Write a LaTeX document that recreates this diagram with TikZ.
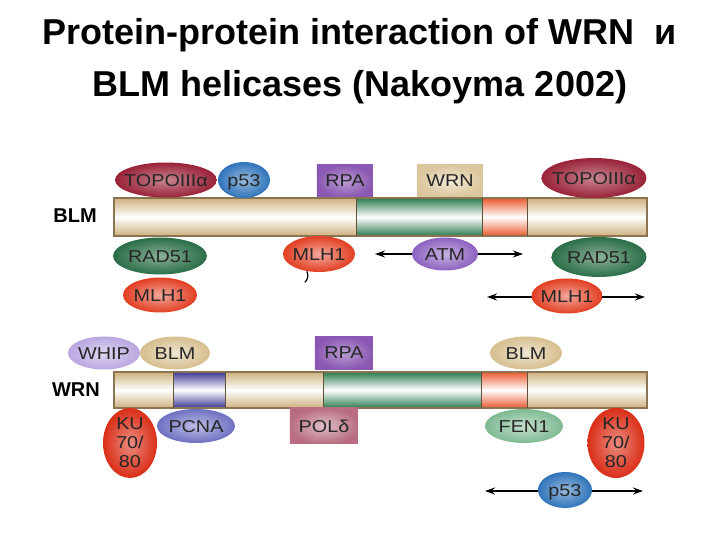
\documentclass[tikz,border=0pt]{standalone}
\usepackage{fontspec}
\setmainfont{Liberation Sans}
\usetikzlibrary{shapes.geometric,arrows.meta}
\definecolor{topo}{HTML}{9A2238}
\definecolor{pfs}{HTML}{2F74BA}
\definecolor{rpa}{HTML}{8A58B2}
\definecolor{wrnb}{HTML}{DCC69C}
\definecolor{rad}{HTML}{2A6E46}
\definecolor{mlh}{HTML}{E23E22}
\definecolor{atm}{HTML}{8D62C0}
\definecolor{whip}{HTML}{B9A6E0}
\definecolor{blmc}{HTML}{D6BE8E}
\definecolor{ku}{HTML}{DA2E18}
\definecolor{pcna}{HTML}{6E70C2}
\definecolor{pol}{HTML}{B86E80}
\definecolor{fen}{HTML}{7EBA92}
\definecolor{tan}{HTML}{CDB07C}
\definecolor{grn}{HTML}{2C7A4E}
\definecolor{org}{HTML}{EA5A30}
\definecolor{pur}{HTML}{3C3896}
\definecolor{edge}{HTML}{8A7452}
\newcommand\ctext[1]{\makebox[0pt]{\smash{\raisebox{-0.36em}{\scalebox{1.15}[1]{#1}}}}}
\newcommand\btext[1]{\scalebox{1.15}[1]{#1}}
\begin{document}
\begin{tikzpicture}[x=0.5pt,y=-0.5pt,
  ell/.style={ellipse,inner sep=0pt,font=\fontsize{8.6}{9.5}\selectfont,text=black!85},
  bx/.style={rectangle,inner sep=0pt,font=\fontsize{8.6}{9.5}\selectfont,text=black!85},
  ttl/.style={font=\bfseries\fontsize{18}{20}\selectfont,anchor=base},
  lbl/.style={font=\bfseries\fontsize{10}{12}\selectfont},
  arr/.style={{Stealth[length=5pt,width=3.5pt]}-{Stealth[length=5pt,width=3.5pt]},line width=0.7pt}]
\useasboundingbox (0,0) rectangle (720,540);

% title
\node[ttl] (t1) at (360,45) {Protein-protein interaction of WRN\ \ и};
\node[ttl] (t2) at (360,97) {BLM helicases (Nakoyma 2002)};

% BLM bar
\shade[top color=tan,bottom color=tan,middle color=white] (114,198) rectangle (357,236);
\shade[top color=grn,bottom color=grn,middle color=white] (357,198) rectangle (483,236);
\shade[top color=org,bottom color=org,middle color=white] (483,198) rectangle (528,236);
\shade[top color=tan,bottom color=tan,middle color=white] (528,198) rectangle (647,236);
\draw[edge,line width=0.6pt] (114,198) rectangle (647,236);
\draw[edge!70!black,line width=0.5pt] (357,198) -- (357,236) (483,198) -- (483,236) (528,198) -- (528,236);
\node[lbl] (blmlbl) at (75,216) {BLM};

% WRN bar
\shade[top color=tan,bottom color=tan,middle color=white] (114,372) rectangle (174,408);
\shade[top color=pur,bottom color=pur,middle color=white] (174,372) rectangle (226,408);
\shade[top color=tan,bottom color=tan,middle color=white] (226,372) rectangle (324,408);
\shade[top color=grn,bottom color=grn,middle color=white] (324,372) rectangle (482,408);
\shade[top color=org,bottom color=org,middle color=white] (482,372) rectangle (528,408);
\shade[top color=tan,bottom color=tan,middle color=white] (528,372) rectangle (647,408);
\draw[edge,line width=0.6pt] (114,372) rectangle (647,408);
\draw[edge!70!black,line width=0.5pt] (174,372) -- (174,408) (226,372) -- (226,408) (324,372) -- (324,408) (482,372) -- (482,408) (528,372) -- (528,408);
\node[lbl] (wrnlbl) at (76,390) {WRN};

% arrows (behind proteins)
\coordinate (a1) at (375,254); \coordinate (a2) at (523,254);
\coordinate (b1) at (487,297); \coordinate (b2) at (645,297);
\coordinate (c1) at (485,491); \coordinate (c2) at (643,491);
\draw[arr] (a1) -- (a2);
\draw[arr] (b1) -- (b2);
\draw[arr] (c1) -- (c2);

% BLM partners, top
\node[ell,minimum width=51pt,minimum height=17.5pt,inner color=topo!55!white,outer color=topo] (topoL) at (166,180) {\ctext{TOPOIIIα}};
\node[ell,minimum width=26pt,minimum height=18pt,inner color=pfs!50!white,outer color=pfs] (p53a) at (244,180) {\ctext{p53}};
\node[bx,minimum width=28pt,minimum height=16pt,inner color=rpa!60!white,outer color=rpa] (rpaA) at (345,181) {\btext{RPA}};
\node[bx,minimum width=33pt,minimum height=16pt,inner color=wrnb!40!white,outer color=wrnb] (wrnbx) at (450,181) {\btext{WRN}};
\node[ell,minimum width=52.5pt,minimum height=20pt,inner color=topo!55!white,outer color=topo] (topoR) at (594,178) {\ctext{TOPOIIIα}};

% BLM partners, bottom
\node[ell,minimum width=47pt,minimum height=18.5pt,inner color=rad!55!white,outer color=rad] (radL) at (160,256) {\ctext{RAD51}};
\node[ell,minimum width=37pt,minimum height=17.5pt,inner color=mlh!45!white,outer color=mlh] (mlhL) at (160,295) {\ctext{MLH1}};
\node[ell,minimum width=36pt,minimum height=18pt,inner color=mlh!45!white,outer color=mlh] (mlhM) at (319,254) {\ctext{MLH1}};
\node[ell,minimum width=33pt,minimum height=16.5pt,inner color=atm!50!white,outer color=atm] (atm) at (445,254) {\ctext{ATM}};
\node[ell,minimum width=47.5pt,minimum height=20pt,inner color=rad!55!white,outer color=rad] (radR) at (599,257) {\ctext{RAD51}};
\node[ell,minimum width=35.5pt,minimum height=17.5pt,inner color=mlh!45!white,outer color=mlh] (mlhR) at (567,296) {\ctext{MLH1}};
\draw[line width=0.6pt] (mlhM.235) to[bend left=35] ++(-2,11);

% WRN partners, top
\node[ell,minimum width=36pt,minimum height=16.5pt,inner color=whip!45!white,outer color=whip] (whip) at (104,353) {\ctext{WHIP}};
\node[ell,minimum width=35pt,minimum height=16.5pt,inner color=blmc!40!white,outer color=blmc] (blmL) at (175,353) {\ctext{BLM}};
\node[bx,minimum width=29pt,minimum height=16.5pt,inner color=rpa!60!white,outer color=rpa] (rpaB) at (344,353) {\btext{RPA}};
\node[ell,minimum width=36pt,minimum height=16.5pt,inner color=blmc!40!white,outer color=blmc] (blmR) at (526,353) {\ctext{BLM}};

% WRN partners, bottom
\node[ell,minimum width=27pt,minimum height=35pt,inner color=ku!55!white,outer color=ku] (kuL) at (130,443) {\ctext{\begin{tabular}{@{}c@{}}KU\\70/\\80\end{tabular}}};
\node[ell,minimum width=39pt,minimum height=17pt,inner color=pcna!45!white,outer color=pcna] (pcna) at (196,426) {\ctext{PCNA}};
\node[bx,minimum width=34pt,minimum height=18pt,inner color=pol!45!white,outer color=pol] (pol) at (324,426) {\btext{POLδ}};
\node[ell,minimum width=39pt,minimum height=17pt,inner color=fen!45!white,outer color=fen] (fen) at (524,426) {\ctext{FEN1}};
\node[ell,minimum width=28.5pt,minimum height=35pt,inner color=ku!55!white,outer color=ku] (kuR) at (616,443) {\ctext{\begin{tabular}{@{}c@{}}KU\\70/\\80\end{tabular}}};
\node[ell,minimum width=27pt,minimum height=18pt,inner color=pfs!50!white,outer color=pfs] (p53b) at (565,490) {\ctext{p53}};
\end{tikzpicture}
\end{document}
